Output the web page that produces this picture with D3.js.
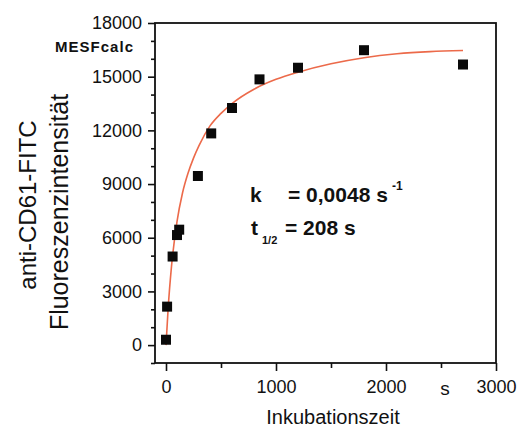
<!DOCTYPE html>
<html>
<head>
<meta charset="utf-8">
<script src="https://cdn.jsdelivr.net/npm/d3@7"></script>
<style>
  body { margin: 0; background: #fff; }
  text { font-family: "Liberation Sans", Arial, sans-serif; fill: #111; }
</style>
</head>
<body>
<svg width="527" height="432"></svg>
<script>
// measured points (time in s, MESF)
var timeVals = [0, 10, 60, 100, 120, 290, 411, 600, 850, 1200, 1800, 2700];
var mesfVals = [300, 2150, 4950, 6150, 6450, 9450, 11830, 13250, 14850, 15500, 16480, 15680];

// fitted curve
var fitTime = [0, 20, 50, 100, 150, 200, 250, 300, 400, 500, 600, 800, 1000, 1200, 1500, 1800, 2100, 2400, 2700];
var fitMesf = [0, 2100, 4400, 6900, 8500, 9600, 10450, 11150, 12250, 12950, 13500, 14300, 14850, 15250, 15720, 16060, 16280, 16400, 16460];

var xTicks = [0, 1000, 2000, 3000],
    xMinor = [500, 1500, 2500];
var yTicks = [0, 3000, 6000, 9000, 12000, 15000, 18000],
    yMinor = [-1000, 1000, 2000, 4000, 5000, 7000, 8000, 10000, 11000, 13000, 14000, 16000, 17000];

var svg = d3.select("svg"),
    plotL = 155, plotR = 496, plotT = 23, plotB = 363;

var x = d3.scaleLinear().domain([-100, 3000]).range([plotL, plotR]);
var y = d3.scaleLinear().domain([-1000, 18000]).range([plotB, plotT]);

// minor ticks first, majors on top
svg.append("g")
    .attr("transform", "translate(0," + plotB + ")")
    .call(d3.axisBottom(x).tickValues(xMinor).tickSize(5).tickFormat(""))
    .call(g => g.select(".domain").remove());
svg.append("g")
    .attr("transform", "translate(" + plotL + ",0)")
    .call(d3.axisLeft(y).tickValues(yMinor).tickSize(4).tickFormat(""))
    .call(g => g.select(".domain").remove());

var xAxis = svg.append("g")
    .attr("transform", "translate(0," + plotB + ")")
    .call(d3.axisBottom(x).tickValues(xTicks).tickSize(8).tickPadding(9).tickFormat(d3.format("d")));
xAxis.select(".domain").remove();
xAxis.selectAll("text").style("font-size", "18px").attr("fill", "#111");

var yAxis = svg.append("g")
    .attr("transform", "translate(" + plotL + ",0)")
    .call(d3.axisLeft(y).tickValues(yTicks).tickSize(7).tickPadding(6).tickFormat(d3.format("d")));
yAxis.select(".domain").remove();
yAxis.selectAll("text").style("font-size", "18px").attr("fill", "#111");

svg.selectAll(".tick line").attr("stroke", "#111").attr("stroke-width", 1.6);

// frame
svg.append("rect")
    .attr("x", plotL).attr("y", plotT)
    .attr("width", plotR - plotL).attr("height", plotB - plotT)
    .attr("fill", "none")
    .attr("stroke", "#111")
    .attr("stroke-width", 1.8);

// fit curve
var fitData = fitTime.map((t, i) => [t, fitMesf[i]]);
svg.append("path")
    .datum(fitData)
    .attr("fill", "none")
    .attr("stroke", "#ec6a4a")
    .attr("stroke-width", 1.6)
    .attr("d", d3.line()
        .x(d => x(d[0]))
        .y(d => y(d[1]))
        .curve(d3.curveMonotoneX));

// data squares
var sq = 10;
svg.append("g")
    .selectAll("rect")
    .data(timeVals)
    .enter().append("rect")
        .attr("x", (d, i) => x(d) - sq / 2)
        .attr("y", (d, i) => y(mesfVals[i]) - sq / 2)
        .attr("width", sq)
        .attr("height", sq)
        .attr("fill", "#0a0a0a");

// labels
svg.append("text")
    .attr("x", 94).attr("y", 52)
    .attr("text-anchor", "middle")
    .attr("textLength", 78)
    .style("font-size", "15px")
    .style("font-weight", "bold")
    .text("MESFcalc");

svg.append("text")
    .attr("transform", "translate(36,205) rotate(-90)")
    .attr("text-anchor", "middle")
    .style("font-size", "24px")
    .text("anti-CD61-FITC");
svg.append("text")
    .attr("transform", "translate(68,212) rotate(-90)")
    .attr("text-anchor", "middle")
    .style("font-size", "25px")
    .text("Fluoreszenzintensität");

svg.append("text")
    .attr("x", 333).attr("y", 424)
    .attr("text-anchor", "middle")
    .style("font-size", "20px")
    .text("Inkubationszeit");

svg.append("text")
    .attr("x", 445).attr("y", 395)
    .attr("text-anchor", "middle")
    .style("font-size", "19px")
    .text("s");

// kinetics annotation
var ann = svg.append("g").style("font-weight", "bold");
ann.append("text").attr("x", 250).attr("y", 202).style("font-size", "21px").text("k");
ann.append("text").attr("x", 288).attr("y", 202).style("font-size", "21px").text("= 0,0048 s");
ann.append("text").attr("x", 392).attr("y", 190).style("font-size", "12px").text("-1");
ann.append("text").attr("x", 251).attr("y", 235).style("font-size", "21px").text("t");
ann.append("text").attr("x", 262).attr("y", 244).style("font-size", "11px").text("1/2");
ann.append("text").attr("x", 285).attr("y", 235).style("font-size", "21px").text("= 208 s");
</script>
</body>
</html>
